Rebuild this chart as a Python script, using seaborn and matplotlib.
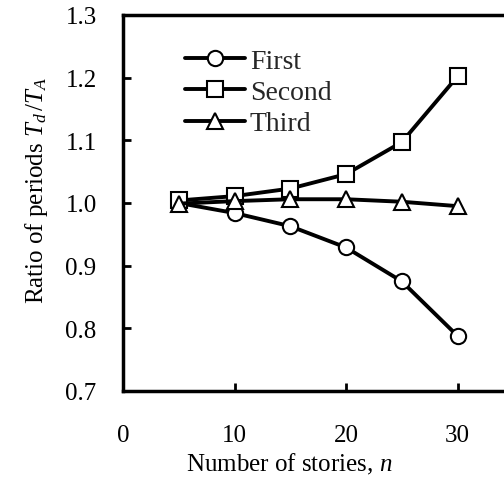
import numpy as np
import pandas as pd
import matplotlib
matplotlib.use("Agg")
import matplotlib.pyplot as plt
import seaborn as sns

stories = [5, 10, 15, 20, 25, 30]
first = [1.000, 0.984, 0.963, 0.929, 0.875, 0.788]
second = [1.004, 1.011, 1.023, 1.046, 1.097, 1.202]
third = [0.999, 1.003, 1.006, 1.006, 1.002, 0.995]
series_names = ["First", "Second", "Third"]
x_ticks = [0, 10, 20, 30]
y_ticks = [0.7, 0.8, 0.9, 1.0, 1.1, 1.2, 1.3]

sns.set_theme(style="white")
plt.rcParams["font.family"] = ["Liberation Serif", "DejaVu Serif"]
plt.rcParams["mathtext.fontset"] = "custom"
plt.rcParams["mathtext.rm"] = "Liberation Serif"
plt.rcParams["mathtext.it"] = "Liberation Serif:italic"

df = pd.DataFrame({
    "n": stories * 3,
    "ratio": first + second + third,
    "mode": [s for s in series_names for _ in stories],
})

fig = plt.figure(figsize=(5.04, 4.85), dpi=100)
ax = fig.add_axes([123/504, 1 - 392/485, 1 - 123/504, (392 - 16)/485])

sns.lineplot(data=df, x="n", y="ratio", hue="mode", style="mode",
             markers={"First": "o", "Second": "s", "Third": "^"},
             dashes=False, palette={s: "black" for s in series_names},
             markersize=11, markerfacecolor="white", markeredgecolor="black",
             markeredgewidth=1.5, linewidth=2.8, ax=ax)

ax.set_xlim(0, (504 - 123) / 11.15)
ax.set_ylim(0.7, 1.3)
ax.set_xticks(x_ticks)
ax.set_yticks(y_ticks)
ax.set_yticklabels([f"{v:.1f}" for v in y_ticks])
ax.tick_params(axis="both", direction="in", length=6, width=2, colors="black",
               labelsize=18, bottom=True, left=True)
ax.tick_params(axis="x", pad=24)
ax.tick_params(axis="y", pad=19)
for side in ["left", "bottom", "top"]:
    ax.spines[side].set_visible(True)
    ax.spines[side].set_color("black")
    ax.spines[side].set_linewidth(2.5)
ax.spines["right"].set_visible(False)

ax.set_xlabel("Number of stories, $n$", fontsize=18, color="black")
ax.set_ylabel("Ratio of periods $T_d\\,/T_A$", fontsize=18, color="black")
ax.xaxis.set_label_coords(0.437, -0.158)
ax.yaxis.set_label_coords(-0.192, 0.537)

leg = ax.legend(loc="upper left", bbox_to_anchor=(0.163, 0.911), frameon=False,
                fontsize=20, handlelength=2.15, handletextpad=0.18,
                labelspacing=0.21, borderpad=0, borderaxespad=0, title=None)
for h in leg.legend_handles:
    h.set_color("black")
    h.set_markerfacecolor("white")
    h.set_markeredgecolor("black")
    h.set_markeredgewidth(1.5)
    h.set_linewidth(2.8)
    h.set_markersize(11)

fig.savefig("out.png", dpi=100)
